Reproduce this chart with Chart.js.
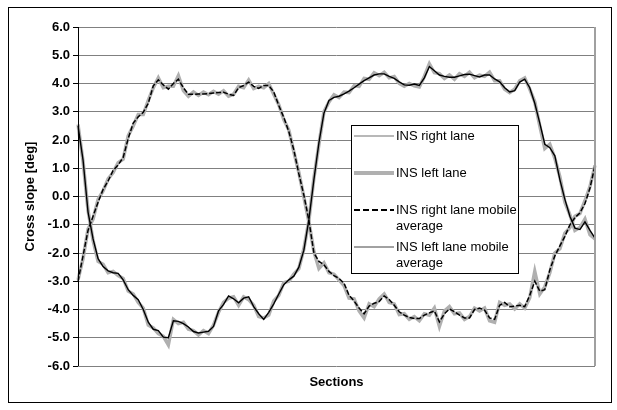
<!DOCTYPE html>
<html><head><meta charset="utf-8">
<script src="https://cdn.jsdelivr.net/npm/chart.js@4.4.1/dist/chart.umd.min.js"></script>
<style>html,body{margin:0;padding:0;background:#fff;}canvas{display:block;}</style>
</head><body>
<canvas id="c" width="617" height="410"></canvas>
<script>
// Section index (x axis, no labels shown)
const sections = [];
for (let i = 1; i <= 104; i++) sections.push(i);

const yTicks = [-6, -5, -4, -3, -2, -1, 0, 1, 2, 3, 4, 5, 6];

const insRightLane = [
  -2.95, -2.2, -1.15, -0.8, -0.1, 0.2, 0.62, 0.85, 1.2, 1.32,
  2.15, 2.5, 2.9, 2.9, 3.4, 3.85, 4.2, 3.85, 3.9, 3.9,
  4.28, 3.75, 3.55, 3.7, 3.58, 3.7, 3.6, 3.72, 3.62, 3.74,
  3.55, 3.62, 3.9, 3.85, 4.12, 3.82, 3.9, 3.85, 4.0, 3.62,
  3.25, 2.72, 2.35, 1.58, 0.85, -0.02, -0.9, -1.95, -2.55, -2.35,
  -2.7, -2.75, -2.95, -3.15, -3.6, -3.62, -4.05, -4.3, -3.8, -3.9,
  -3.62, -3.45, -3.75, -3.8, -4.18, -4.15, -4.35, -4.25, -4.4, -4.15,
  -4.2, -3.95, -4.6, -4.05, -3.9, -4.15, -4.12, -4.35, -4.25, -3.95,
  -4.05, -3.95, -4.4, -4.45, -3.75, -3.85, -3.8, -3.98, -3.8, -3.95,
  -3.58, -2.65, -3.45, -3.2, -2.7, -2.0, -1.85, -1.3, -1.1, -0.7,
  -0.6, -0.15, 0.35, 1.1
];
const insLeftLane = [
  2.55, 1.25, -0.5, -1.55, -2.3, -2.4, -2.7, -2.65, -2.8, -2.9,
  -3.35, -3.45, -3.75, -3.95, -4.55, -4.65, -4.85, -4.95, -5.25, -4.35,
  -4.5, -4.45, -4.7, -4.75, -4.9, -4.75, -4.85, -4.55, -4.1, -3.75,
  -3.6, -3.55, -3.85, -3.55, -3.65, -3.85, -4.25, -4.3, -4.2, -3.7,
  -3.5, -3.05, -3.0, -2.75, -2.55, -1.85, -0.85, 0.65, 1.85, 3.0,
  3.35, 3.6, 3.5, 3.7, 3.68, 3.92, 3.9, 4.18, 4.15, 4.38,
  4.28, 4.4, 4.2, 4.25, 4.0, 3.9, 4.0, 3.92, 3.88, 4.25,
  4.7, 4.38, 4.35, 4.18, 4.3, 4.15, 4.35, 4.25, 4.4, 4.2,
  4.3, 4.25, 4.4, 4.1, 4.1, 3.8, 3.68, 3.8, 4.1, 4.2,
  3.8, 3.35, 2.5, 1.7, 1.85, 1.35, 0.7, -0.2, -0.65, -1.2,
  -1.1, -0.8, -1.35, -1.5
];
const insRightLaneAvg = [
  -3.0, -2.1, -1.2, -0.7, -0.2, 0.25, 0.55, 0.92, 1.12, 1.38,
  2.05, 2.6, 2.82, 2.98, 3.3, 3.92, 4.13, 3.95, 3.8, 4.0,
  4.15, 3.85, 3.62, 3.62, 3.63, 3.63, 3.64, 3.66, 3.68, 3.69,
  3.62, 3.58, 3.85, 3.93, 4.05, 3.9, 3.83, 3.93, 3.93, 3.7,
  3.22, 2.8, 2.3, 1.65, 0.8, 0.05, -0.85, -2.0, -2.3, -2.42,
  -2.65, -2.8, -2.9, -3.07, -3.5, -3.7, -3.95, -4.15, -3.88, -3.78,
  -3.72, -3.52, -3.65, -3.85, -4.08, -4.2, -4.28, -4.32, -4.32, -4.2,
  -4.12, -4.05, -4.44, -4.15, -3.98, -4.08, -4.2, -4.3, -4.3, -4.0,
  -3.95, -4.02, -4.3, -4.35, -3.85, -3.75, -3.9, -3.88, -3.85, -3.9,
  -3.5, -3.0, -3.35, -3.3, -2.6, -2.1, -1.75, -1.41, -1.0, -0.75,
  -0.58, -0.25, 0.3, 1.1
];
const insLeftLaneAvg = [
  2.5, 1.3, -0.55, -1.5, -2.2, -2.48, -2.63, -2.7, -2.72, -2.95,
  -3.3, -3.5, -3.65, -4.0, -4.45, -4.7, -4.75, -4.98, -5.0, -4.4,
  -4.42, -4.5, -4.62, -4.78, -4.83, -4.8, -4.77, -4.6, -4.05, -3.82,
  -3.52, -3.62, -3.76, -3.6, -3.55, -3.9, -4.15, -4.35, -4.1, -3.8,
  -3.45, -3.12, -2.95, -2.82, -2.5, -1.9, -0.82, 0.6, 1.91, 2.95,
  3.4, 3.51, 3.55, 3.63, 3.73, 3.85, 3.98, 4.1, 4.2, 4.3,
  4.34, 4.34, 4.25, 4.18, 4.06, 3.95, 3.94, 3.98, 3.93, 4.2,
  4.6, 4.45, 4.3, 4.25, 4.22, 4.22, 4.27, 4.32, 4.33, 4.28,
  4.23, 4.3, 4.3, 4.16, 4.06, 3.85, 3.7, 3.75, 4.05, 4.15,
  3.85, 3.3, 2.6, 1.85, 1.73, 1.44, 0.6, -0.1, -0.7, -1.12,
  -1.17, -0.9, -1.2, -1.47
];

const seriesNames = ['INS right lane', 'INS left lane', 'INS right lane mobile average', 'INS left lane mobile average'];
const legendLines = [['INS right lane'], ['INS left lane'], ['INS right lane mobile', 'average'], ['INS left lane mobile', 'average']];

const FONT = "'Liberation Sans', Arial, sans-serif";

const framePlugin = {
  id: 'frame',
  beforeDraw(chart) {
    const ctx = chart.ctx;
    ctx.save();
    ctx.fillStyle = '#fff';
    ctx.fillRect(0, 0, chart.width, chart.height);
    ctx.restore();
  },
  afterDraw(chart) {
    const ctx = chart.ctx;
    const a = chart.chartArea;
    ctx.save();
    ctx.strokeStyle = '#000';
    ctx.lineWidth = 1;
    ctx.strokeRect(8.5, 7.5, 603, 395);
    ctx.strokeStyle = '#a0a0a0';
    ctx.lineWidth = 2;
    ctx.beginPath();
    ctx.moveTo(a.right, a.top);
    ctx.lineTo(a.right, a.bottom);
    ctx.stroke();
    ctx.strokeStyle = '#000';
    ctx.lineWidth = 1;
    ctx.beginPath();
    ctx.moveTo(Math.round(a.left) + 0.5, a.top);
    ctx.lineTo(Math.round(a.left) + 0.5, a.bottom);
    ctx.stroke();

    // legend
    const bx = 351.5, by = 125.5, bw = 167, bh = 148;
    ctx.fillStyle = '#fff';
    ctx.fillRect(bx, by, bw, bh);
    ctx.strokeStyle = '#000';
    ctx.lineWidth = 1;
    ctx.strokeRect(bx, by, bw, bh);
    const rows = [136, 173, 210, 247];
    const styles = [
      {c: '#a0a0a0', w: 1.5, d: []},
      {c: '#b0b0b0', w: 4, d: []},
      {c: '#000000', w: 2, d: [6, 3]},
      {c: '#444444', w: 1, d: []}
    ];
    ctx.font = '13px ' + FONT;
    ctx.textBaseline = 'middle';
    ctx.textAlign = 'left';
    rows.forEach((y, i) => {
      const s = styles[i];
      ctx.strokeStyle = s.c;
      ctx.lineWidth = s.w;
      ctx.setLineDash(s.d);
      ctx.beginPath();
      ctx.moveTo(354, y);
      ctx.lineTo(394, y);
      ctx.stroke();
      ctx.setLineDash([]);
      ctx.fillStyle = '#000';
      legendLines[i].forEach((t, j) => ctx.fillText(t, 396, y + j * 16));
    });
    ctx.restore();
  }
};

new Chart(document.getElementById('c'), {
  type: 'line',
  data: {
    labels: sections,
    datasets: [
      {label: seriesNames[0], data: insRightLane, borderColor: '#b0b0b0', borderWidth: 3.5, pointRadius: 0, tension: 0, order: 3},
      {label: seriesNames[1], data: insLeftLane, borderColor: '#b0b0b0', borderWidth: 3.5, pointRadius: 0, tension: 0, order: 2},
      {label: seriesNames[2], data: insRightLaneAvg, borderColor: '#000', borderWidth: 1.5, borderDash: [5, 2], pointRadius: 0, tension: 0, order: 1},
      {label: seriesNames[3], data: insLeftLaneAvg, borderColor: '#000', borderWidth: 1.4, pointRadius: 0, tension: 0, order: 0}
    ]
  },
  options: {
    responsive: false,
    animation: false,
    devicePixelRatio: 1,
    layout: {padding: {left: 10, top: 27, right: 22, bottom: 0}},
    plugins: {legend: {display: false}, tooltip: {enabled: false}},
    scales: {
      x: {
        type: 'category',
        offset: false,
        grid: {display: false},
        border: {display: false},
        ticks: {display: false},
        title: {display: true, text: 'Sections', color: '#000', font: {family: FONT, size: 13, weight: 'bold'}, padding: {top: 0, bottom: 20}},
        afterFit(scale) { scale.height = 44; }
      },
      y: {
        min: yTicks[0],
        max: yTicks[yTicks.length - 1],
        afterBuildTicks(scale) { scale.ticks = yTicks.map(v => ({value: v})); },
        ticks: {
          color: '#000',
          padding: 3,
          font: {family: FONT, size: 13, weight: 'bold'},
          callback: v => Number(v).toFixed(1)
        },
        grid: {color: '#808080', lineWidth: 1, tickLength: 5, tickColor: '#000'},
        border: {display: false},
        title: {display: true, text: 'Cross slope [deg]', color: '#000', font: {family: FONT, size: 13, weight: 'bold'}, padding: {top: 13, bottom: 0}},
        afterFit(scale) { scale.width = 68; }
      }
    }
  },
  plugins: [framePlugin]
});
</script>
</body></html>
